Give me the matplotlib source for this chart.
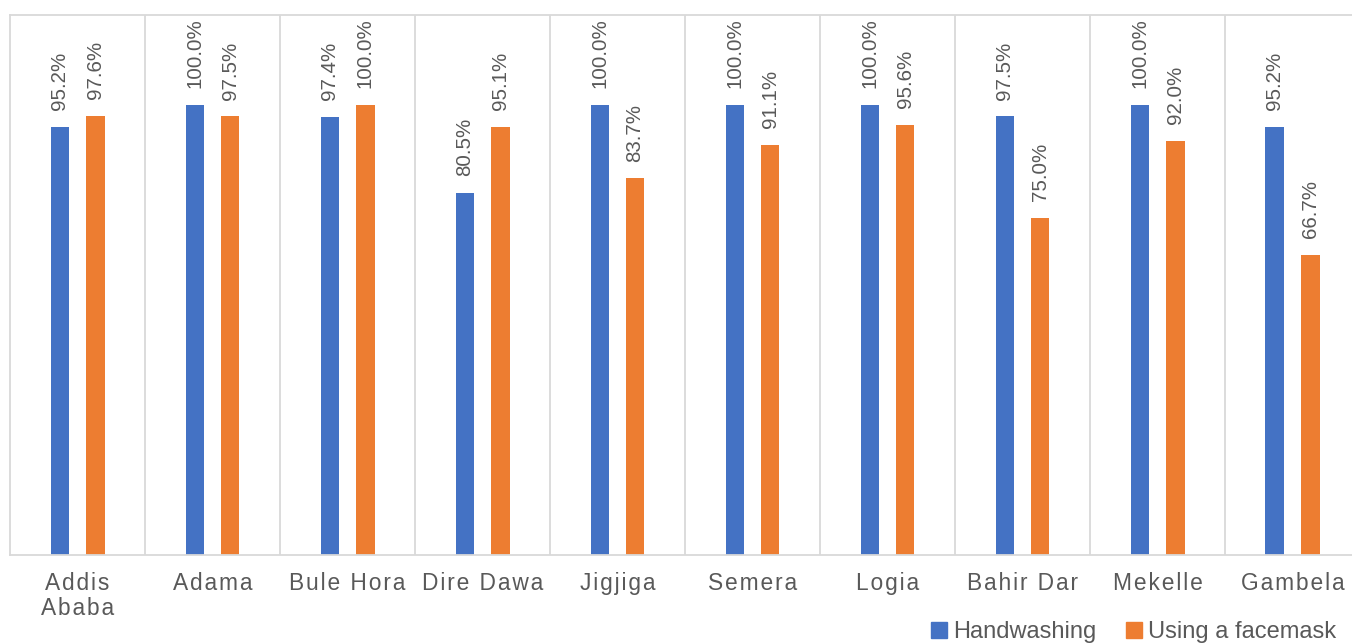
import numpy as np
import matplotlib.pyplot as plt
from matplotlib.lines import Line2D

# Values
cities = ["Addis\nAbaba", "Adama", "Bule Hora", "Dire Dawa", "Jigjiga",
          "Semera", "Logia", "Bahir Dar", "Mekelle", "Gambela"]
handwashing = [95.2, 100.0, 97.4, 80.5, 100.0, 100.0, 100.0, 97.5, 100.0, 95.2]
facemask = [97.6, 97.5, 100.0, 95.1, 83.7, 91.1, 95.6, 75.0, 92.0, 66.7]

blue = "#4472C4"
orange = "#ED7D31"
grey_text = "#595959"
grid_col = "#D9D9D9"
plt.rcParams['font.family'] = ['Liberation Sans', 'DejaVu Sans']


def spaced(s):
    # mimic the letter spacing of the original axis labels
    gap = "\u200a"
    out = []
    for line in s.split("\n"):
        words = [gap.join(w) for w in line.split(" ")]
        out.append((gap + " " + gap).join(words))
    return "\n".join(out)


W, H = 1352, 643
fig = plt.figure(figsize=(W / 100, H / 100), dpi=100)
ax = fig.add_axes([10 / W, (H - 555) / H, 1350 / W, 540 / H])

x = np.arange(len(cities))
off = 0.13
bw = 0.14
b1 = ax.bar(x - off, handwashing, bw, color=blue)
b2 = ax.bar(x + off, facemask, bw, color=orange)

for bars, vals in [(b1, handwashing), (b2, facemask)]:
    for rect, v in zip(bars, vals):
        ax.annotate(f"{v:.1f}%", (rect.get_x() + rect.get_width() / 2, v),
                    xytext=(0, 12), textcoords="offset points",
                    rotation=90, ha="center", va="bottom",
                    fontsize=14.8, color=grey_text)

ax.set_xlim(-0.5, len(cities) - 0.5)
ax.set_ylim(0, 120)
ax.set_yticks([])
for b in np.arange(0.5, len(cities) - 0.5, 1):
    ax.axvline(b, color=grid_col, lw=1.3, zorder=0)

ax.set_xticks(x)
ax.set_xticklabels([spaced(c) for c in cities], fontsize=16.4, color=grey_text,
                   linespacing=1.12)
ax.tick_params(axis="x", length=0, pad=12)
for s in ax.spines.values():
    s.set_color(grid_col)
    s.set_linewidth(1.3)

handles = [Line2D([], [], marker="s", ls="", color=blue, markersize=11),
           Line2D([], [], marker="s", ls="", color=orange, markersize=11)]
fig.legend(handles, ["Handwashing", "Using a facemask"], loc="lower right",
           bbox_to_anchor=(1353 / W, -17 / H), ncol=2, frameon=False,
           fontsize=17, labelcolor=grey_text, handletextpad=0.2,
           columnspacing=1.2, handlelength=0.8, borderpad=0.2)

fig.savefig("out.png", dpi=100)
